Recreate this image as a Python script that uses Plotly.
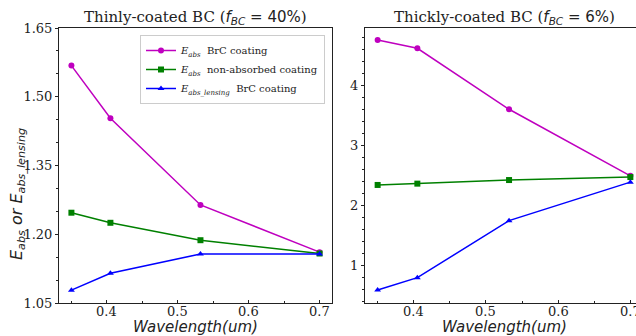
import plotly.graph_objects as go

# ---- data ----
wavelength = [0.35, 0.405, 0.532, 0.7]

thin_eabs_brc = [1.568, 1.453, 1.264, 1.161]
thin_eabs_nonabs = [1.247, 1.225, 1.187, 1.158]
thin_elens_brc = [1.078, 1.115, 1.157, 1.157]

thick_eabs_brc = [4.755, 4.617, 3.60, 2.49]
thick_eabs_nonabs = [2.338, 2.36, 2.42, 2.47]
thick_elens_brc = [0.588, 0.793, 1.743, 2.385]

series_names = [
    "<i>E</i><sub><i>abs</i></sub>  BrC coating",
    "<i>E</i><sub><i>abs</i></sub>  non-absorbed coating",
    "<i>E</i><sub><i>abs_lensing</i></sub>  BrC coating",
]
left_ticks = [1.05, 1.20, 1.35, 1.50, 1.65]
right_ticks = [1, 2, 3, 4]
x_ticks = [0.4, 0.5, 0.6, 0.7]
x_ticklabels = ["0.4", "0.5", "0.6", "0.7"]

colors = ["#BF00BF", "#008000", "#0000FF"]
symbols = ["circle", "square", "triangle-up"]

W, H = 636, 336
ML, MR, MT, MB = 59, 0, 28, 33
PW = W - ML - MR
PH = H - MT - MB

def fx(px):
    return (px - ML) / PW

def fy(py):
    return (H - MB - py) / PH

fig = go.Figure()

left_data = [thin_eabs_brc, thin_eabs_nonabs, thin_elens_brc]
right_data = [thick_eabs_brc, thick_eabs_nonabs, thick_elens_brc]

for i in range(3):
    fig.add_trace(go.Scatter(
        x=wavelength, y=left_data[i], mode="lines+markers",
        name=series_names[i],
        line=dict(color=colors[i], width=1.5),
        marker=dict(color=colors[i], symbol=symbols[i], size=6),
        xaxis="x", yaxis="y", showlegend=True))
for i in range(3):
    fig.add_trace(go.Scatter(
        x=wavelength, y=right_data[i], mode="lines+markers",
        line=dict(color=colors[i], width=1.5),
        marker=dict(color=colors[i], symbol=symbols[i], size=6),
        xaxis="x2", yaxis="y2", showlegend=False))

tickfont = dict(family="DejaVu Serif", size=13, color="#222")
axis_common = dict(showgrid=False, zeroline=False, showline=True,
                   linecolor="#222", linewidth=1,
                   ticklen=3, tickcolor="#222", tickfont=tickfont)

xr = [0.3325, 0.7175]
right_end = xr[0] + (xr[1] - xr[0]) * (636 - 365) / (643 - 365)

title_font = dict(family="DejaVu Sans", size=15, color="#222")

annotations = [
    dict(text="Thinly-coated BC (<span style='font-family:DejaVu Sans'><i>f</i><sub><i>BC</i></sub> = 40%</span>)",
         x=fx((59 + 332) / 2), y=fy(18), xref="paper", yref="paper",
         xanchor="center", yanchor="middle", showarrow=False,
         font=dict(family="DejaVu Serif", size=15, color="#222")),
    dict(text="Thickly-coated BC (<span style='font-family:DejaVu Sans'><i>f</i><sub><i>BC</i></sub> = 6%</span>)",
         x=fx((365 + 643) / 2), y=fy(18), xref="paper", yref="paper",
         xanchor="center", yanchor="middle", showarrow=False,
         font=dict(family="DejaVu Serif", size=15, color="#222")),
    dict(text="<i>Wavelength(um)</i>", x=fx((59 + 332) / 2), y=fy(327),
         xref="paper", yref="paper", xanchor="center", yanchor="middle",
         showarrow=False, font=title_font),
    dict(text="<i>Wavelength(um)</i>", x=fx((365 + 643) / 2), y=fy(327),
         xref="paper", yref="paper", xanchor="center", yanchor="middle",
         showarrow=False, font=title_font),
    dict(text="<i>E</i><sub><i>abs</i></sub><i> or E</i><sub><i>abs_lensing</i></sub>",
         x=fx(17), y=fy(194), xref="paper", yref="paper",
         xanchor="center", yanchor="middle", textangle=-90, showarrow=False,
         font=dict(family="DejaVu Sans", size=16, color="#222")),
]
# x tick labels placed through each x axis' own scale
for xa in ["x", "x2"]:
    for v, t in zip(x_ticks, x_ticklabels):
        annotations.append(dict(text=t, x=v, y=fy(311), xref=xa, yref="paper",
                                xanchor="center", yanchor="middle",
                                showarrow=False, font=tickfont))

fig.update_layout(
    width=W, height=H,
    margin=dict(l=ML, r=MR, t=MT, b=MB),
    plot_bgcolor="white", paper_bgcolor="white",
    xaxis=dict(domain=[0, fx(332)], range=xr, tickvals=x_ticks,
               showticklabels=False, mirror=True, ticks="inside",
               minor=dict(dtick=0.05, tick0=0.35, ticklen=2, ticks="inside", tickcolor="#222"),
               anchor="y", **axis_common),
    yaxis=dict(domain=[0, 1], range=[1.05, 1.65], tickvals=left_ticks,
               ticktext=["%.2f" % v for v in left_ticks], mirror=True, ticks="outside",
               minor=dict(dtick=0.05, tick0=1.05, ticklen=2, ticks="outside", tickcolor="#222"),
               anchor="x", **axis_common),
    xaxis2=dict(domain=[fx(365), 1], range=[xr[0], right_end], tickvals=x_ticks,
                showticklabels=False, mirror=True, ticks="inside",
                minor=dict(dtick=0.05, tick0=0.35, ticklen=2, ticks="inside", tickcolor="#222"),
                anchor="y2", **axis_common),
    yaxis2=dict(domain=[0, 1], range=[0.37, 4.955], tickvals=right_ticks,
                ticktext=[str(v) for v in right_ticks], mirror=False, ticks="outside",
                minor=dict(dtick=0.2, tick0=0, ticklen=2, ticks="outside", tickcolor="#222"),
                anchor="x2", **axis_common),
    legend=dict(x=fx(140), y=fy(35), xanchor="left", yanchor="top",
                bgcolor="rgba(255,255,255,0.9)", bordercolor="#cccccc", borderwidth=1,
                font=dict(family="DejaVu Serif", size=10, color="#222"),
                tracegroupgap=0, itemwidth=30),
    annotations=annotations,
)

fig.write_html("out.html")
